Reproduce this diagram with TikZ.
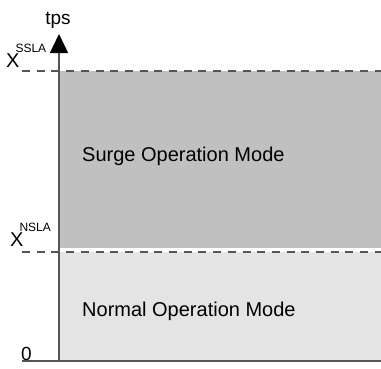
\documentclass[tikz,border=0pt]{standalone}
\usepackage{fontspec}
\setmainfont{Liberation Sans}
\usetikzlibrary{arrows.meta}
\definecolor{surgefill}{HTML}{C0C0C0}
\definecolor{normalfill}{HTML}{E4E4E4}
\definecolor{axisgray}{HTML}{555555}
\newcommand{\slasup}[1]{\kern-4pt\raisebox{15pt}{\fontsize{12}{13}\selectfont #1}}
\tikzset{
  axisline/.style={draw=axisgray, line width=1.5pt},
  levelline/.style={draw=axisgray, line width=1.5pt, dash pattern=on 8pt off 6.7pt},
  modelabel/.style={anchor=base west, inner sep=0pt, font=\fontsize{20}{24}\selectfont},
  axislabel/.style={anchor=base west, inner sep=0pt, font=\fontsize{20}{24}\selectfont},
}
\begin{document}
\begin{tikzpicture}[x=1pt, y=-1pt]
  \useasboundingbox (0,0) rectangle (381,368);
  % operating regions
  \fill[surgefill] (60,71) rectangle (381,248);
  \fill[normalfill] (60,252) rectangle (381,361);
  % threshold levels
  \coordinate (sslaL) at (22,71);
  \coordinate (sslaR) at (381,71);
  \coordinate (nslaL) at (22,252);
  \coordinate (nslaR) at (381,252);
  \draw[levelline] (sslaL) -- (sslaR);
  \draw[levelline] (nslaL) -- (nslaR);
  % axes
  \coordinate (origin) at (59,361);
  \coordinate (ytop) at (59,34);
  \coordinate (xleft) at (22,361);
  \coordinate (xright) at (381,361);
  \draw[axisline] (xleft) -- (xright);
  \draw[axisline, -{Triangle[width=18pt, length=19pt, color=black]}] (origin) -- (ytop);
  % labels
  \node[anchor=base, inner sep=0pt, font=\fontsize{19}{22}\selectfont] (tps) at (58,24) {tps};
  \node[axislabel] (xssla) at (6,67) {X\slasup{SSLA}};
  \node[axislabel] (xnsla) at (10,246) {X\slasup{NSLA}};
  \node[axislabel, font=\fontsize{19}{22}\selectfont] (zero) at (21,360) {0};
  \node[modelabel] (surge) at (82,161) {Surge Operation Mode};
  \node[modelabel] (normal) at (82,316) {Normal Operation Mode};
\end{tikzpicture}
\end{document}
